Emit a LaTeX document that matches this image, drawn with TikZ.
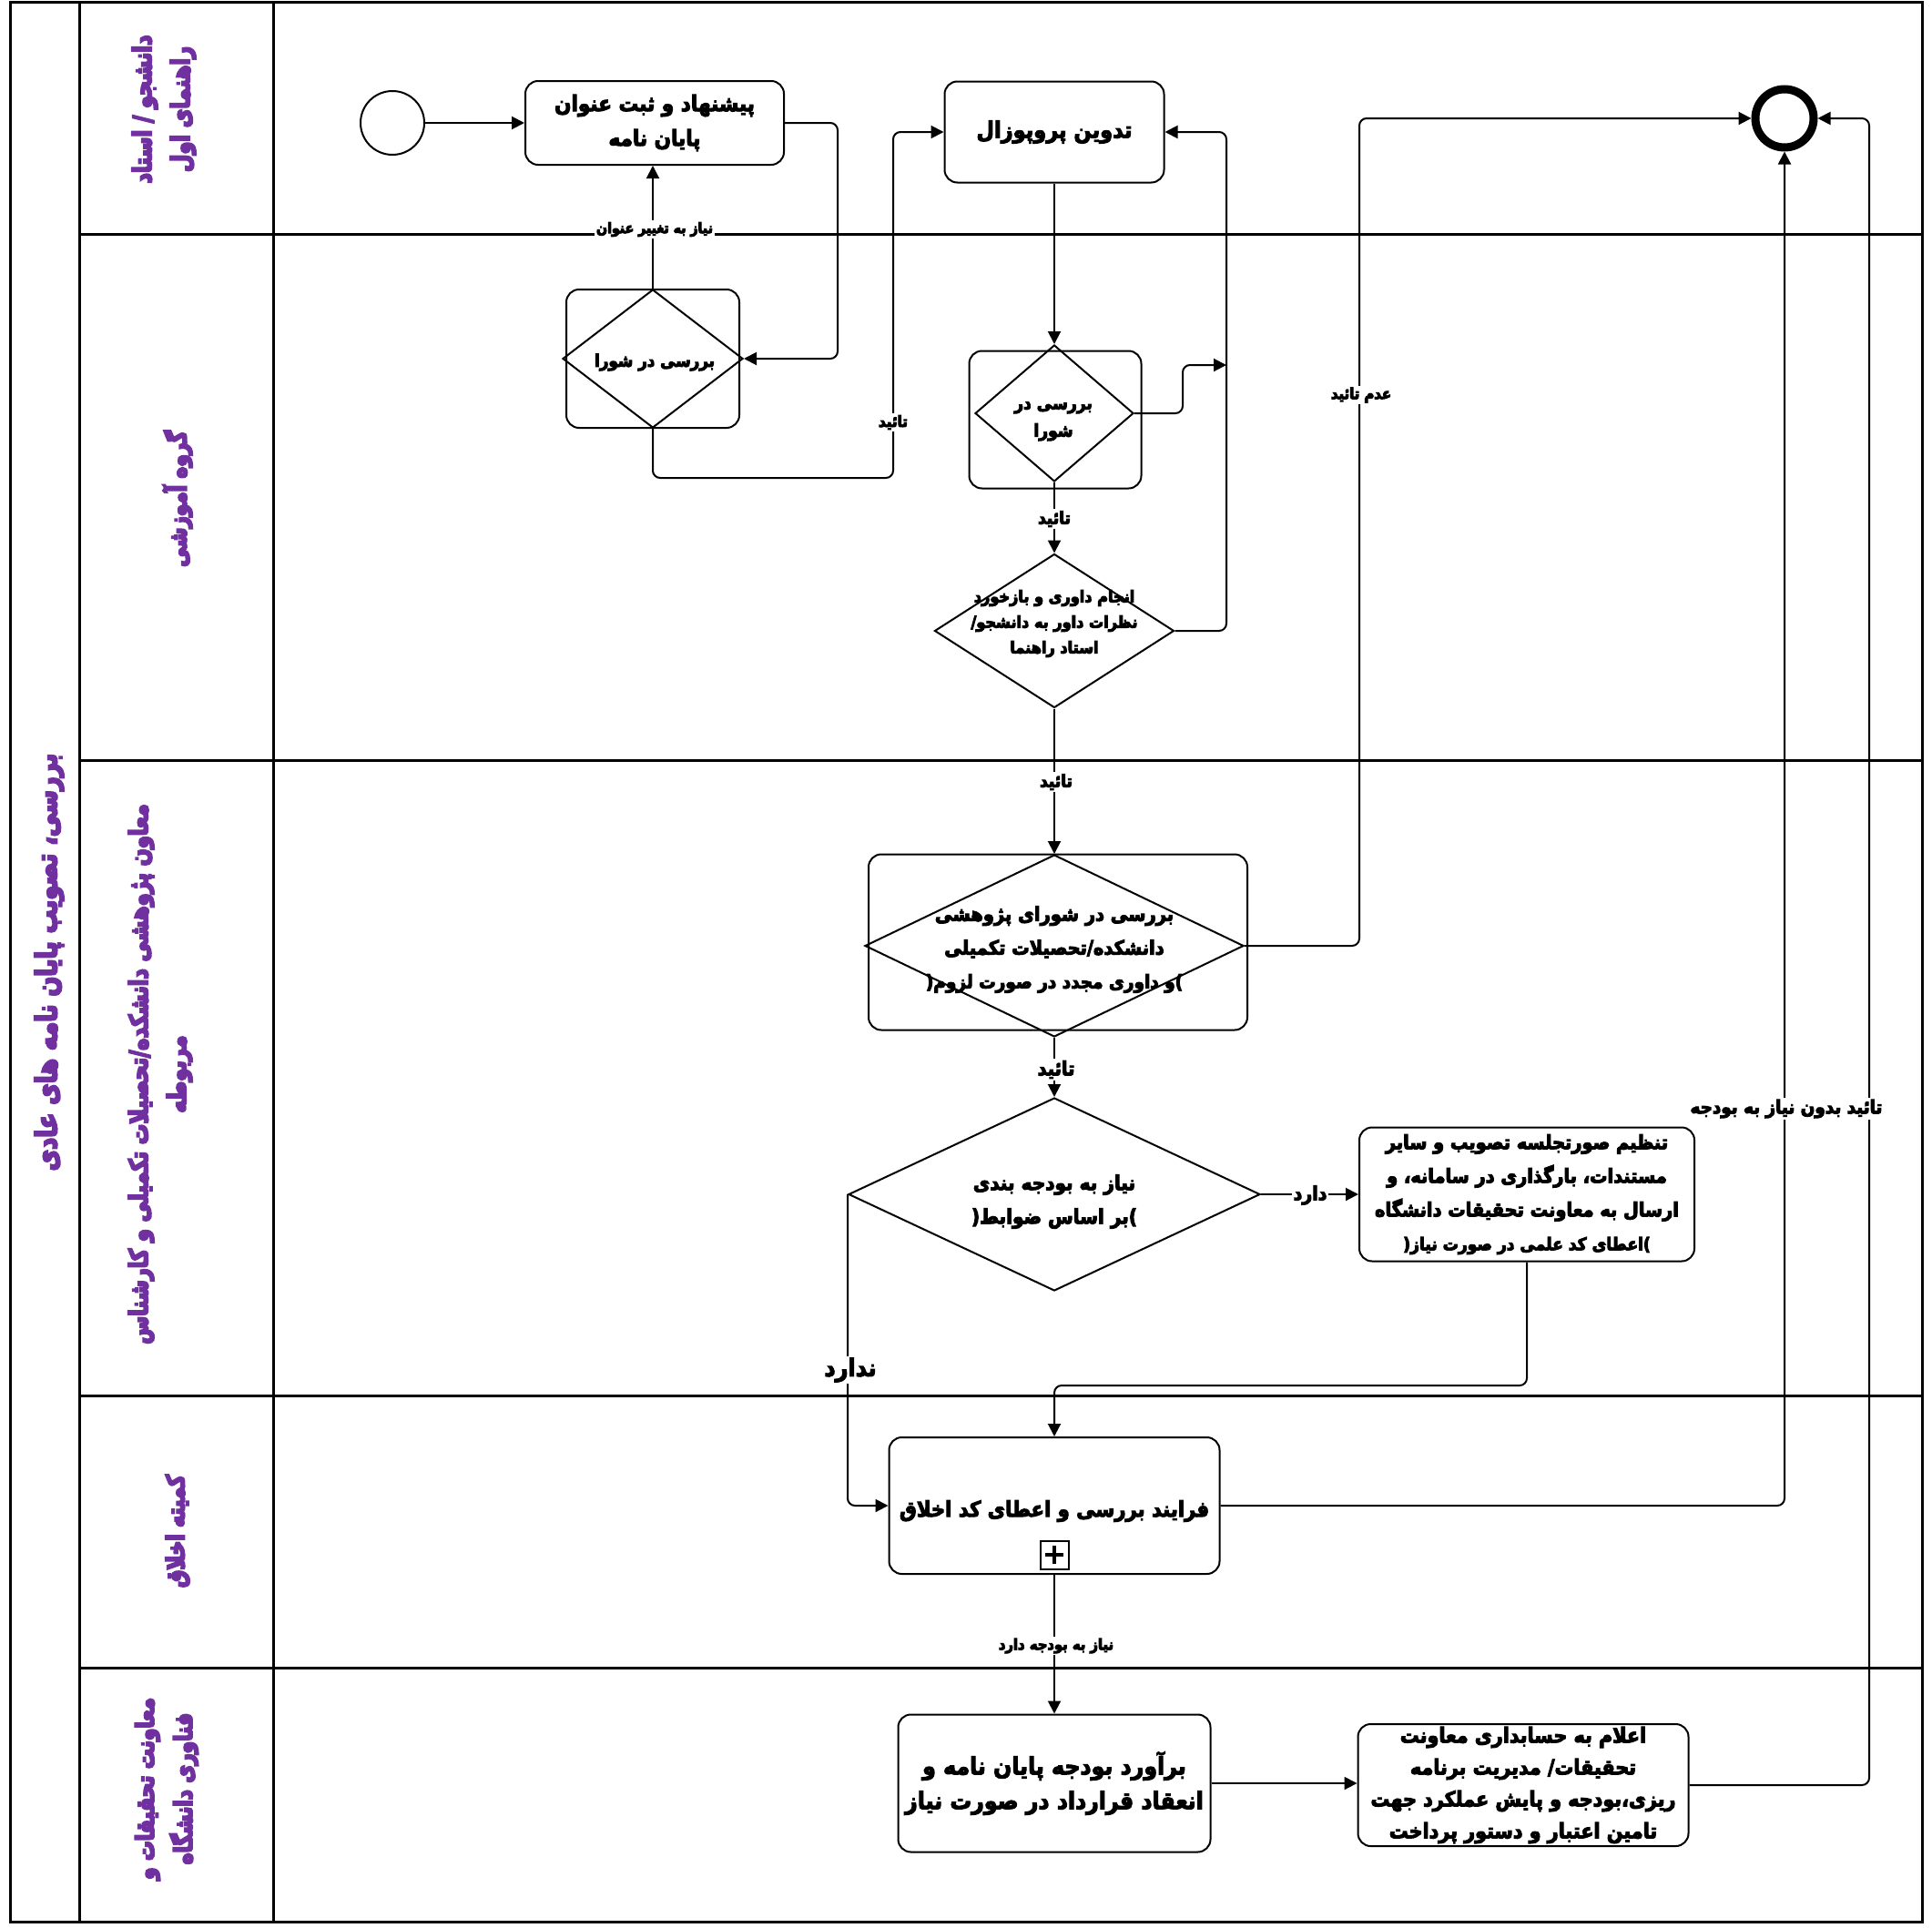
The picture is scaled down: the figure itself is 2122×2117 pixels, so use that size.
\documentclass[tikz,border=0pt]{standalone}
\usepackage{fontspec}
\usetikzlibrary{shapes.geometric,arrows.meta}
\TeXXeTstate=1
\newfontfamily\arabicfont[Script=Arabic,FakeStretch=0.9]{DejaVu Sans}
\newfontfamily\lanefont[Script=Arabic,FakeStretch=0.8]{DejaVu Sans}
\newcommand{\fa}[1]{{\special{pdf:literal direct 2 Tr 1 w}\beginR #1\endR\special{pdf:literal direct 0 Tr}}}
\newcommand{\fl}[1]{{\special{pdf:literal direct 2 Tr 2 w}\beginR #1\endR\special{pdf:literal direct 0 Tr}}}
\newcommand{\fs}[2]{\arabicfont\bfseries\fontsize{#1}{#2}\selectfont}
\definecolor{lanepurple}{HTML}{7030A0}
\begin{document}
\begin{tikzpicture}[x=1pt,y=-1pt,
  lane/.style={line width=3pt},
  task/.style={draw, fill=white, rounded corners=14pt, line width=2pt, align=center, inner sep=0pt,
    font=\fs{24}{38}},
  sbox/.style={draw, rounded corners=14pt, line width=2pt, inner sep=0pt},
  gwd/.style={diamond, draw, line width=2pt, inner sep=0pt},
  gtext/.style={align=center, inner sep=0pt, font=\fs{20}{30}},
  conn/.style={line width=2pt, -{Triangle[length=14pt,width=14pt]}, rounded corners=8pt},
  lbl/.style={fill=white, inner sep=2pt, font=\fs{17}{20}},
  lanelbl/.style={rotate=90, text=lanepurple, align=center, inner sep=0pt,
    font=\lanefont\bfseries\fontsize{28}{42}\selectfont}
]
\useasboundingbox (0,0) rectangle (2122,2117);
% pool and lanes
\draw[lane] (11,3) rectangle (2111,2111);
\draw[lane] (87,3) -- (87,2111);
\draw[lane] (300,3) -- (300,2111);
\foreach \yy in {257,835,1533,1832} {\draw[lane] (87,\yy) -- (2111,\yy);}
% lane labels
\node[lanelbl, font=\lanefont\bfseries\fontsize{32}{40}\selectfont] (pool) at (54,1057) {\fl{بررسی، تصویب پایان نامه های عادی}};
\node[lanelbl] (L1) at (180,120) {\fl{دانشجو / استاد}\\\fl{راهنمای اول}};
\node[lanelbl, font=\lanefont\bfseries\fontsize{27}{40}\selectfont] (L2) at (195,548) {\fl{گروه آموزشی}};
\node[lanelbl] (L3) at (176,1180) {\fl{معاون پژوهشی دانشکده/تحصیلات تکمیلی و کارشناس}\\\fl{مربوطه}};
\node[lanelbl, font=\lanefont\bfseries\fontsize{27}{40}\selectfont] (L4) at (195,1682) {\fl{کمیته اخلاق}};
\node[lanelbl, font=\lanefont\bfseries\fontsize{27}{42}\selectfont] (L5) at (183,1965) {\fl{معاونت تحقیقات و}\\\fl{فناوری دانشگاه}};
% nodes
\node[circle, draw, line width=2pt, minimum size=70pt, inner sep=0pt] (start) at (431,135) {};
\node[task, minimum width=284pt, minimum height=92pt] (t1) at (719,135) {\fa{پیشنهاد و ثبت عنوان}\\\fa{پایان نامه}};
\node[sbox, minimum width=190pt, minimum height=152pt] (g1box) at (717,394) {};
\node[gwd, minimum width=198pt, minimum height=152pt] (g1) at (717,394) {};
\node[gtext, font=\fs{18.6}{28}] (g1t) at (719,398) {\fa{بررسی در شورا}};
\node[task, minimum width=241pt, minimum height=111pt, font=\fs{25}{36}] (t2) at (1158,145) {\fa{تدوین پروپوزال}};
\node[sbox, minimum width=189pt, minimum height=151pt] (g2box) at (1159,461) {};
\node[gwd, minimum width=174pt, minimum height=150pt] (g2) at (1158,454) {};
\node[gtext, font=\fs{19}{30}] (g2t) at (1157,463) {\fa{بررسی در}\\\fa{شورا}};
\node[gwd, minimum width=263pt, minimum height=169pt] (g3) at (1158,693) {};
\node[gtext, font=\fs{17.9}{28}] (g3t) at (1158,685) {\fa{انجام داوری و بازخورد}\\\fa{نظرات داور به دانشجو/}\\\fa{استاد راهنما}};
\node[sbox, minimum width=416pt, minimum height=193pt] (g4box) at (1162,1035) {};
\node[gwd, minimum width=416pt, minimum height=200pt] (g4) at (1158,1039) {};
\node[gtext, font=\fs{21.6}{37}] (g4t) at (1158,1043) {\fa{بررسی در شورای پژوهشی}\\\fa{دانشکده/تحصیلات تکمیلی}\\{\fontsize{20.5}{37}\selectfont\fa{)و داوری مجدد در صورت لزوم(}}};
\node[gwd, minimum width=452pt, minimum height=212pt] (g5) at (1158,1312) {};
\node[gtext, font=\fs{22.3}{37}] (g5t) at (1158,1320) {\fa{نیاز به بودجه بندی}\\\fa{)بر اساس ضوابط(}};
\node[task, minimum width=368pt, minimum height=147pt, font=\fs{21.5}{37}] (t4) at (1677,1312) {\fa{تنظیم صورتجلسه تصویب و سایر}\\\fa{مستندات، بارگذاری در سامانه، و}\\\fa{ارسال به معاونت تحقیقات دانشگاه}\\{\fontsize{19}{37}\selectfont\fa{)اعطای کد علمی در صورت نیاز(}}};
\node[task, minimum width=363pt, minimum height=150pt] (te) at (1158,1654) {};
\node[gtext, font=\fs{23.5}{30}] (tet) at (1158,1660) {\fa{فرایند بررسی و اعطای کد اخلاق}};
\node[draw, line width=2pt, minimum size=31pt, inner sep=0pt] (plus) at (1158,1708) {};
\draw[line width=4pt] ([xshift=-10pt]plus.center) -- ([xshift=10pt]plus.center);
\draw[line width=4pt] ([yshift=-10pt]plus.center) -- ([yshift=10pt]plus.center);
\node[task, minimum width=343pt, minimum height=151pt, font=\fs{26.3}{38}] (t5) at (1158,1959) {\fa{برآورد بودجه پایان نامه و}\\\fa{انعقاد قرارداد در صورت نیاز}};
\node[task, minimum width=363pt, minimum height=134pt, font=\fs{23}{35}] (t6) at (1673,1961) {\fa{اعلام به حسابداری معاونت}\\\fa{تحقیقات/ مدیریت برنامه}\\\fa{ریزی،بودجه و پایش عملکرد جهت}\\\fa{تامین اعتبار و دستور پرداخت}};
\node[circle, draw, line width=9pt, minimum size=64pt, inner sep=0pt] (endev) at (1960,130) {};
% connectors
\draw[conn] (start) -- (t1);
\draw[conn] (g1.north) -- (g1.north|-t1.south);
\draw[conn] (t1.east) -- (920,135) |- (g1.east);
\draw[conn] (g1.south) |- (981,525) |- (t2.west);
\draw[conn] (t2.south) -- (t2.south|-g2.north);
\coordinate (j1) at (1347,401);
\draw[conn] (g2.east) -- (1299,454) |- (j1);
\draw[conn] (g3.east) -| (1347,145) -- (t2.east);
\draw[conn] (g2.south) -- (g2.south|-g3.north);
\draw[conn] (g3.south) -- (g3.south|-g4.north);
\draw[conn] (g4.east) -| (1493,130) -- (endev.west);
\draw[conn] (g4.south) -- (g4.south|-g5.north);
\draw[conn] (g5.east) -- (g5.east-|t4.west);
\draw[conn] (t4.south) -- (1677,1522) -| (te.north);
\draw[conn] (g5.west) |- (te.west);
\draw[conn] (te.south) -- (te.south|-t5.north);
\draw[conn] (te.east) -| (endev.south);
\draw[conn] (t5.east) -- (t5.east-|t6.west);
\draw[conn] (t6.east) -| (2053,130) -- (endev.east);
% connector labels
\node[lbl, font=\fs{15.7}{20}] (l1) at (719,252) {\fa{نیاز به تغییر عنوان}};
\node[lbl, font=\fs{16.8}{20}] (l2) at (981,464) {\fa{تائید}};
\node[lbl, font=\fs{18.9}{22}] (l3) at (1158,570) {\fa{تائید}};
\node[lbl, font=\fs{18.9}{22}] (l4) at (1160,859) {\fa{تائید}};
\node[lbl, font=\fs{21.5}{24}] (l5) at (1160,1175) {\fa{تائید}};
\node[lbl, font=\fs{16.5}{20}] (l6) at (1495,434) {\fa{عدم تائید}};
\node[lbl, font=\fs{21}{24}] (l7) at (1439,1313) {\fa{دارد}};
\node[lbl, font=\fs{26.7}{30}] (l8) at (934,1505) {\fa{ندارد}};
\node[lbl, font=\fs{16.4}{20}] (l9) at (1160,1808) {\fa{نیاز به بودجه دارد}};
\node[lbl, font=\fs{20.4}{24}] (l10) at (1962,1218) {\fa{تائید بدون نیاز به بودجه}};
\end{tikzpicture}
\end{document}
